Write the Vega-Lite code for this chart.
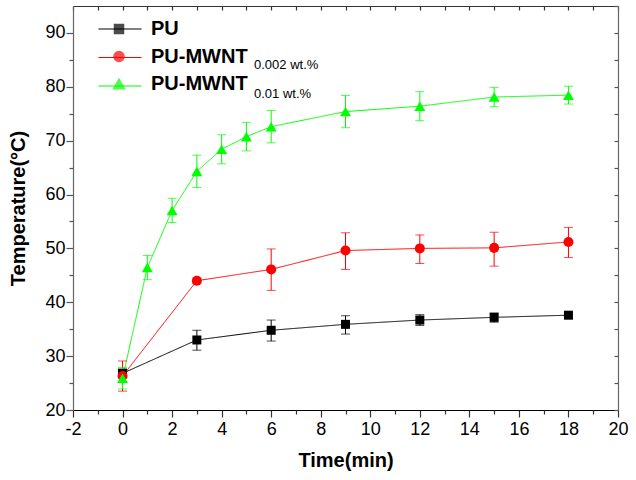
{
  "$schema": "https://vega.github.io/schema/vega-lite/v6.json",
  "width": 545,
  "height": 404,
  "autosize": {"type": "none"},
  "padding": {"left": 73, "top": 6, "right": 18, "bottom": 70},
  "background": "white",
  "config": {
    "font": "Liberation Sans",
    "view": {"stroke": null},
    "axis": {
      "grid": false,
      "labelFont": "Liberation Sans",
      "labelFontSize": 18,
      "labelColor": "black",
      "titleFont": "Liberation Sans",
      "titleFontSize": 20,
      "titleFontWeight": "bold",
      "titleColor": "black",
      "domainColor": "#333",
      "tickColor": "#333",
      "domainWidth": 1.2,
      "tickWidth": 1.2,
      "labelOverlap": false,
      "labelFlush": false
    }
  },
  "data": {
    "values": [
      {"series": "PU", "sub": "PU", "time": 0, "temp": 26.8, "lo": 26.0, "hi": 27.6},
      {"series": "PU", "sub": "PU", "time": 3, "temp": 33.0, "lo": 31.1, "hi": 34.8},
      {"series": "PU", "sub": "PU", "time": 6, "temp": 34.8, "lo": 32.8, "hi": 36.7},
      {"series": "PU", "sub": "PU", "time": 9, "temp": 35.9, "lo": 34.1, "hi": 37.5},
      {"series": "PU", "sub": "PU", "time": 12, "temp": 36.7, "lo": 35.7, "hi": 37.7},
      {"series": "PU", "sub": "PU", "time": 15, "temp": 37.2, "lo": 36.3, "hi": 38.0},
      {"series": "PU", "sub": "PU", "time": 18, "temp": 37.6, "lo": 37.1, "hi": 38.1},
      {"series": "PU-MWNT 0.002 wt.%", "sub": "0.002 wt.%", "time": 0, "temp": 26.3, "lo": 23.5, "hi": 29.1},
      {"series": "PU-MWNT 0.002 wt.%", "sub": "0.002 wt.%", "time": 3, "temp": 44.0, "lo": 43.5, "hi": 44.5},
      {"series": "PU-MWNT 0.002 wt.%", "sub": "0.002 wt.%", "time": 6, "temp": 46.1, "lo": 42.2, "hi": 49.9},
      {"series": "PU-MWNT 0.002 wt.%", "sub": "0.002 wt.%", "time": 9, "temp": 49.6, "lo": 46.1, "hi": 52.9},
      {"series": "PU-MWNT 0.002 wt.%", "sub": "0.002 wt.%", "time": 12, "temp": 50.0, "lo": 47.2, "hi": 52.5},
      {"series": "PU-MWNT 0.002 wt.%", "sub": "0.002 wt.%", "time": 15, "temp": 50.1, "lo": 46.7, "hi": 53.0},
      {"series": "PU-MWNT 0.002 wt.%", "sub": "0.002 wt.%", "time": 18, "temp": 51.2, "lo": 48.3, "hi": 53.9},
      {"series": "PU-MWNT 0.01 wt.%", "sub": "0.01 wt.%", "time": 0, "temp": 25.9, "lo": 23.9, "hi": 27.9},
      {"series": "PU-MWNT 0.01 wt.%", "sub": "0.01 wt.%", "time": 1, "temp": 46.45, "lo": 44.2, "hi": 48.7},
      {"series": "PU-MWNT 0.01 wt.%", "sub": "0.01 wt.%", "time": 2, "temp": 57.05, "lo": 54.8, "hi": 59.3},
      {"series": "PU-MWNT 0.01 wt.%", "sub": "0.01 wt.%", "time": 3, "temp": 64.3, "lo": 61.3, "hi": 67.3},
      {"series": "PU-MWNT 0.01 wt.%", "sub": "0.01 wt.%", "time": 4, "temp": 68.4, "lo": 65.7, "hi": 71.1},
      {"series": "PU-MWNT 0.01 wt.%", "sub": "0.01 wt.%", "time": 5, "temp": 70.75, "lo": 68.1, "hi": 73.4},
      {"series": "PU-MWNT 0.01 wt.%", "sub": "0.01 wt.%", "time": 6, "temp": 72.6, "lo": 69.6, "hi": 75.6},
      {"series": "PU-MWNT 0.01 wt.%", "sub": "0.01 wt.%", "time": 9, "temp": 75.4, "lo": 72.4, "hi": 78.4},
      {"series": "PU-MWNT 0.01 wt.%", "sub": "0.01 wt.%", "time": 12, "temp": 76.4, "lo": 73.7, "hi": 79.1},
      {"series": "PU-MWNT 0.01 wt.%", "sub": "0.01 wt.%", "time": 15, "temp": 78.1, "lo": 76.3, "hi": 79.9},
      {"series": "PU-MWNT 0.01 wt.%", "sub": "0.01 wt.%", "time": 18, "temp": 78.45, "lo": 76.8, "hi": 80.1}
    ]
  },
  "resolve": {"axis": {"x": "independent", "y": "independent"}},
  "layer": [
    {
      "mark": {"type": "line", "strokeWidth": 1},
      "encoding": {
        "x": {"field": "time", "type": "quantitative", "scale": {"domain": [-2, 20], "nice": false, "zero": false},
          "axis": {"orient": "bottom", "values": [-2, 0, 2, 4, 6, 8, 10, 12, 14, 16, 18, 20], "labelExpr": "'' + datum.value", "tickSize": 7, "labelPadding": 3, "titlePadding": 12, "title": "Time(min)", "domainColor": "black", "tickColor": "#333"}},
        "y": {"field": "temp", "type": "quantitative", "scale": {"domain": [20, 95], "nice": false, "zero": false},
          "axis": {"orient": "left", "values": [20, 30, 40, 50, 60, 70, 80, 90], "tickSize": 7, "labelPadding": 1, "titlePadding": 16, "title": "Temperature(°C)", "domainColor": "#666", "tickColor": "#555"}},
        "stroke": {"field": "series", "type": "nominal",
          "scale": {"range": ["#000000", "#ff0000", "#00ff00"]},
          "legend": {"orient": "none", "legendX": 36, "legendY": 12, "direction": "vertical", "title": null, "padding": 0,
            "symbolType": "M-2.05,0H2.05", "symbolSize": 441, "symbolStrokeWidth": 1, "labelOffset": 0, "rowPadding": 7.5,
            "labelFont": "Liberation Sans", "labelFontSize": 20, "labelFontWeight": "bold", "labelColor": "black",
            "labelExpr": "' '"}},
        "strokeDash": {"field": "sub", "type": "nominal",
          "scale": {"domain": ["PU", "0.002 wt.%", "0.01 wt.%"], "range": [[1, 0], [1, 0], [1, 0]]},
          "legend": {"orient": "none", "legendX": 168, "legendY": 23, "direction": "vertical", "title": null, "padding": 0,
            "symbolSize": 0, "symbolStrokeWidth": 0, "symbolOpacity": 0, "labelOffset": 0,
            "labelFont": "Liberation Sans", "labelFontSize": 13, "labelColor": "black", "rowPadding": 15,
            "labelExpr": "datum.label == 'PU' ? ' ' : datum.label"}}
      }
    },
    {
      "mark": {"type": "errorbar", "ticks": {"size": 9, "thickness": 1}, "thickness": 1},
      "encoding": {
        "x": {"field": "time", "type": "quantitative", "axis": null},
        "y": {"field": "lo", "type": "quantitative", "axis": null},
        "y2": {"field": "hi"},
        "color": {"field": "series", "type": "nominal"}
      }
    },
    {
      "mark": {"type": "point", "filled": true, "opacity": 1},
      "encoding": {
        "x": {"field": "time", "type": "quantitative",
          "axis": {"orient": "bottom", "values": [-1, 1, 3, 5, 7, 9, 11, 13, 15, 17, 19], "tickSize": 4, "labels": false, "domain": false, "title": null}},
        "y": {"field": "temp", "type": "quantitative",
          "axis": {"orient": "left", "values": [25, 35, 45, 55, 65, 75, 85], "tickSize": 4, "labels": false, "domain": false, "title": null, "tickColor": "#555"}},
        "color": {"field": "series", "type": "nominal",
          "scale": {"domain": ["PU", "PU-MWNT 0.002 wt.%", "PU-MWNT 0.01 wt.%"], "range": ["#000000", "#ff0000", "#00ff00"]},
          "legend": {"orient": "none", "legendX": 36, "legendY": 13, "direction": "vertical", "title": null, "padding": 0,
            "labelOffset": 22, "rowPadding": 7.5,
            "labelFont": "Liberation Sans", "labelFontSize": 20, "labelFontWeight": "bold", "labelColor": "black",
            "labelExpr": "datum.label == 'PU' ? 'PU' : 'PU-MWNT'"}},
        "shape": {"field": "series", "type": "nominal", "scale": {"domain": ["PU", "PU-MWNT 0.002 wt.%", "PU-MWNT 0.01 wt.%"], "range": ["square", "circle", "triangle-up"]}},
        "size": {"field": "series", "type": "nominal", "scale": {"domain": ["PU", "PU-MWNT 0.002 wt.%", "PU-MWNT 0.01 wt.%"], "range": [81, 121, 160]}}
      }
    },
    {
      "mark": {"type": "point", "opacity": 0},
      "encoding": {
        "x": {"field": "time", "type": "quantitative",
          "axis": {"orient": "top", "values": [-2, -1, 0, 1, 2, 3, 4, 5, 6, 7, 8, 9, 10, 11, 12, 13, 14, 15, 16, 17, 18, 19, 20], "tickSize": -4, "labels": false, "title": null, "domainColor": "#333"}},
        "y": {"field": "temp", "type": "quantitative",
          "axis": {"orient": "right", "values": [20, 25, 30, 35, 40, 45, 50, 55, 60, 65, 70, 75, 80, 85, 90, 95], "tickSize": -4, "labels": false, "title": null, "domainColor": "#666", "tickColor": "#555"}}
      }
    }
  ]
}
